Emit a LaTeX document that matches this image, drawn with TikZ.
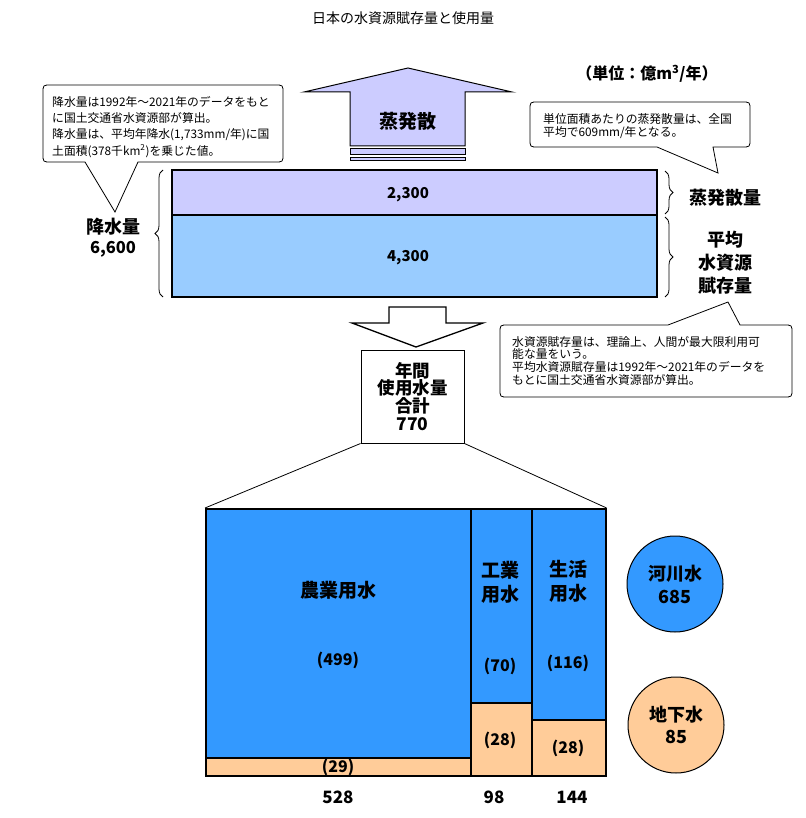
\documentclass[tikz,border=0pt]{standalone}
\usepackage{fontspec}
\setmainfont{Noto Sans CJK JP}
\usetikzlibrary{decorations.pathreplacing}
\definecolor{lav}{HTML}{CCCCFF}
\definecolor{lblue}{HTML}{99CCFF}
\definecolor{cblue}{HTML}{3399FF}
\definecolor{corange}{HTML}{FFCC99}
\tikzset{
  big/.style={font=\bfseries\fontsize{18}{19}\selectfont, inner sep=0pt, align=center},
  num/.style={font=\bfseries\fontsize{15}{17}\selectfont, inner sep=0pt},
  note/.style={font=\fontsize{11.8}{13}\selectfont, inner sep=0pt, anchor=west},
  callout/.style={draw, line width=0.8pt, fill=white},
  cell/.style={draw, line width=1.6pt, anchor=north west, inner sep=0pt},
  bracestyle/.style={decorate, decoration={brace, amplitude=8pt}, line width=0.8pt},
}
\begin{document}
\begin{tikzpicture}[x=1pt, y=-1pt]
\useasboundingbox (0,0) rectangle (805,818);

% title
\node[font=\fontsize{14}{16}\selectfont, inner sep=0pt] (title) at (403,18) {日本の水資源賦存量と使用量};
\node[font=\bfseries\fontsize{16}{18}\selectfont, inner sep=0pt] (unit) at (647,74) {（単位：億m\textsuperscript{3}/年）};

% up arrow (evapotranspiration)
\draw[line width=1pt, fill=lav] (350,146) -- (350,92) -- (304,92) -- (408,68) -- (512,92) -- (465,92) -- (465,146) -- cycle;
\draw[line width=1pt, fill=lav] (350,149) rectangle (465,155);
\draw[line width=1pt, fill=lav] (350,158) rectangle (465,161);
\node[big, font=\bfseries\fontsize{19}{20}\selectfont] (evaplbl) at (408,121) {蒸発散};

% main boxes
\node[draw, line width=1.6pt, fill=lav, minimum width=485pt, minimum height=45pt, inner sep=0pt] (evap) at (414.5,192.5) {};
\node[draw, line width=1.6pt, fill=lblue, minimum width=485pt, minimum height=82pt, inner sep=0pt] (res) at (414.5,256) {};
\node[num] (v2300) at (408,195) {2,300};
\node[num] (v4300) at (408,258) {4,300};

% braces
\draw[bracestyle] (163,297) -- (163,170);
\draw[bracestyle] (665,171) -- (665,214);
\draw[bracestyle] (665,217) -- (665,297);
\node[big] (rain) at (113,227) {降水量};
\node[big, font=\bfseries\fontsize{16.5}{18}\selectfont] (rainv) at (113,249) {6,600};
\node[big] (evq) at (725,198) {蒸発散量};
\node[big, font=\bfseries\fontsize{18}{23}\selectfont] (avg) at (725,263) {平均\\水資源\\賦存量};

% top-left callout
\draw[callout] (85,162) -- (115,212) -- (138,162) -- (275,162) .. controls (283,162) .. (283,154) -- (283,93) .. controls (283,85) .. (275,85) -- (51,85) .. controls (43,85) .. (43,93) -- (43,154) .. controls (43,162) .. (51,162) -- cycle;
\node[note] (tl1) at (52,102) {降水量は1992年～2021年のデータをもと};
\node[note] (tl2) at (52,118) {に国土交通省水資源部が算出。};
\node[note] (tl3) at (52,135) {降水量は、平均年降水(1,733mm/年)に国};
\node[note] (tl4) at (52,151) {土面積(378千km\textsuperscript{2})を乗じた値。};

% top-right callout
\draw[callout] (657,147) -- (718,173) -- (713,147) -- (742,147) .. controls (750,147) .. (750,139) -- (750,110) .. controls (750,102) .. (742,102) -- (538,102) .. controls (530,102) .. (530,110) -- (530,139) .. controls (530,147) .. (538,147) -- cycle;
\node[note] (tr1) at (543,119) {単位面積あたりの蒸発散量は、全国};
\node[note] (tr2) at (543,133) {平均で609mm/年となる。};

% bottom-right callout
\draw[callout] (668,325) -- (728,302) -- (740,325) -- (784,325) .. controls (792,325) .. (792,333) -- (792,389) .. controls (792,397) .. (784,397) -- (508,397) .. controls (500,397) .. (500,389) -- (500,333) .. controls (500,325) .. (508,325) -- cycle;
\node[note] (br1) at (512,342) {水資源賦存量は、理論上、人間が最大限利用可};
\node[note] (br2) at (512,354.5) {能な量をいう。};
\node[note] (br3) at (512,367) {平均水資源賦存量は1992年～2021年のデータを};
\node[note] (br4) at (512,380) {もとに国土交通省水資源部が算出。};

% down arrow
\draw[line width=1.3pt, fill=white] (389,307) -- (446,307) -- (446,323) -- (483,323) -- (416,347) -- (352,323) -- (389,323) -- cycle;

% total use box
\node[draw, line width=1pt, fill=white, minimum width=103pt, minimum height=93pt, inner sep=0pt, font=\bfseries\fontsize{17.5}{17.8}\selectfont, align=center] (use) at (412.5,396.5) {年間\\使用水量\\合計\\770};

% chart
\node[cell, fill=cblue, minimum width=265pt, minimum height=249pt] (agB) at (205,508) {};
\node[cell, fill=corange, minimum width=265pt, minimum height=18pt] (agO) at (205,757) {};
\node[cell, fill=cblue, minimum width=61pt, minimum height=194pt] (inB) at (470,508) {};
\node[cell, fill=corange, minimum width=61pt, minimum height=73pt] (inO) at (470,702) {};
\node[cell, fill=cblue, minimum width=74pt, minimum height=211pt] (doB) at (531,508) {};
\node[cell, fill=corange, minimum width=74pt, minimum height=56pt] (doO) at (531,719) {};
\draw[line width=0.8pt] (use.south west) -- (agB.north west);
\draw[line width=0.8pt] (use.south east) -- (doB.north east);

\node[big, font=\bfseries\fontsize{19}{20}\selectfont] (ag) at (338,590) {農業用水};
\node[num, font=\bfseries\fontsize{16}{17}\selectfont] (ag499) at (338,660) {(499)};
\node[num, font=\bfseries\fontsize{16}{17}\selectfont] (ag29) at (338,767) {(29)};
\node[big, font=\bfseries\fontsize{19}{24}\selectfont] (ind) at (500,582) {工業\\用水};
\node[num, font=\bfseries\fontsize{16}{17}\selectfont] (in70) at (500,666) {(70)};
\node[num, font=\bfseries\fontsize{16}{17}\selectfont] (in28) at (500,740) {(28)};
\node[big, font=\bfseries\fontsize{19}{24}\selectfont] (dom) at (568,581) {生活\\用水};
\node[num, font=\bfseries\fontsize{16}{17}\selectfont] (do116) at (568,663) {(116)};
\node[num, font=\bfseries\fontsize{16}{17}\selectfont] (do28) at (568,748) {(28)};
\node[num, font=\bfseries\fontsize{17}{18}\selectfont] (t528) at (338,797) {528};
\node[num, font=\bfseries\fontsize{17}{18}\selectfont] (t98) at (494,797) {98};
\node[num, font=\bfseries\fontsize{17}{18}\selectfont] (t144) at (572,797) {144};

% circles
\node[circle, draw, line width=1pt, fill=cblue, minimum size=96pt, inner sep=0pt, font=\bfseries\fontsize{18}{23}\selectfont, align=center] (river) at (675,584) {河川水\\685};
\node[circle, draw, line width=1pt, fill=corange, minimum size=96pt, inner sep=0pt, font=\bfseries\fontsize{18}{22}\selectfont, align=center] (ground) at (676,725) {地下水\\85};
\end{tikzpicture}
\end{document}
